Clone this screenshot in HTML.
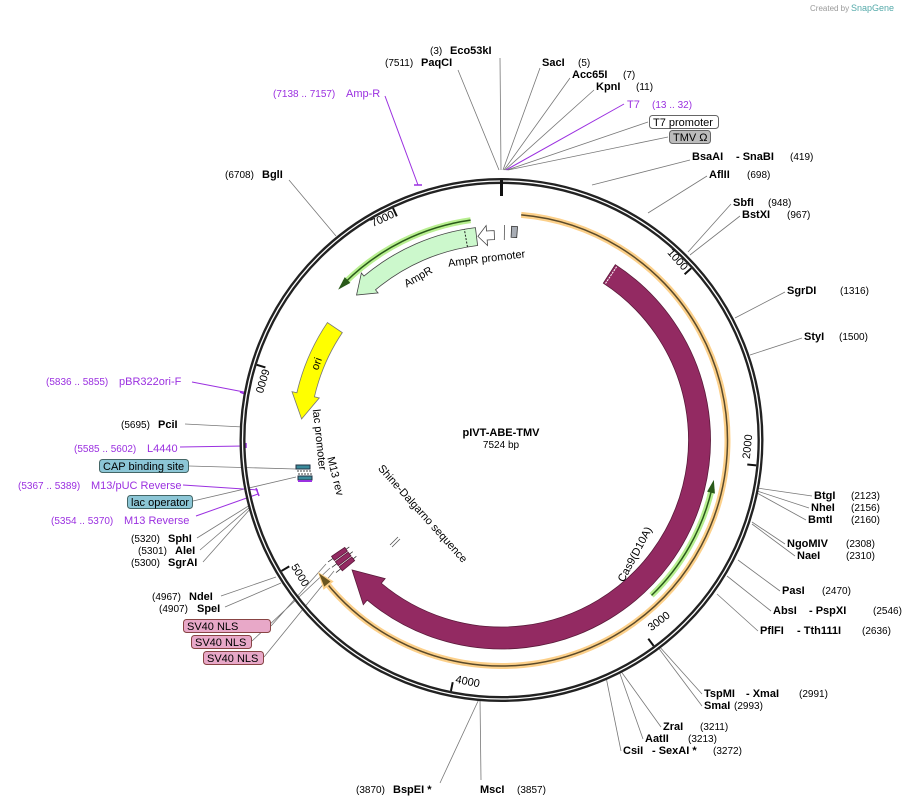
<!DOCTYPE html>
<html><head><meta charset="utf-8"><style>
html,body{margin:0;padding:0;background:#fff;}
svg{display:block;font-family:"Liberation Sans","DejaVu Sans",sans-serif;}
.n{font-weight:bold;font-size:11px;fill:#000}
.c{font-size:10px;fill:#000}
.p{font-size:11px;fill:#9b30e0}
.pc{font-size:10px;fill:#9b30e0}
.l{stroke:#777;stroke-width:0.8;fill:none}
.lp{stroke:#9b30e0;stroke-width:1;fill:none}
.f{font-size:11px;fill:#000}
</style></head><body>
<svg id="s" width="907" height="805" viewBox="0 0 907 805" xmlns="http://www.w3.org/2000/svg">
<text x="810" y="11" font-size="8" fill="#999">Created by</text><text x="851" y="11" font-size="9" fill="#5aa">SnapGene</text>
<g id="lines">
<path class="l" d="M500 58L501 170M458 70L499 170M540 68L503 170M570 78L504 170M594 90L505 170M648 122L507 170M668 137L508 170M690 160L592 185M707 176L648 213M731 204L688 252M740 216L690 255M785 292L735 318M802 338L750 355M812 496L757 488M809 508L757 491M806 520L757 493M785 544L752 522M795 556L752 524M780 591L738 560M771 611L727 576M758 631L717 594M702 694L658 645M702 706L657 646M661 727L620 670M643 739L619 671M621 751L606 677M481 780L480 699M440 783L479 699M289 180L336 236M185 424L243 427M189 466L296 469M193 501L296 477M197 538L250 505M200 550L250 507M203 562L251 508M221 596L276 577M225 607L281 583M271 626L326 564M252 641L330 568M264 657L334 571"/>
<path class="lp" d="M624 104L506 170M385 96L418 185M192 382L244 392M180 447L244 446M183 485L258 490M196 516L258 494"/>
<path d="M414 185l8 0M240 392l5 2M246 443l0 5M256 488l3 8" stroke="#9b30e0" stroke-width="1.5"/>
</g>
<g id="ring">
<circle cx="501.5" cy="440" r="259" fill="none" stroke="#222" stroke-width="6"/>
<circle cx="501.5" cy="440" r="259" fill="none" stroke="#fff" stroke-width="1.3"/>
<path d="M501.5 180V196" stroke="#111" stroke-width="3"/>
</g>
<g id="dyn"></g>
<text x="501" y="436" text-anchor="middle" font-weight="bold" font-size="11">pIVT-ABE-TMV</text>
<text x="501" y="448" text-anchor="middle" font-size="10">7524 bp</text>

<text x="430" y="54" class="c">(3)</text><text x="450" y="54" class="n">Eco53kI</text>
<text x="385" y="66" class="c">(7511)</text><text x="421" y="66" class="n">PaqCI</text>
<text x="542" y="66" class="n">SacI</text><text x="578" y="66" class="c">(5)</text>
<text x="572" y="78" class="n">Acc65I</text><text x="623" y="78" class="c">(7)</text>
<text x="596" y="90" class="n">KpnI</text><text x="636" y="90" class="c">(11)</text>
<text x="627" y="108" class="p">T7</text><text x="652" y="108" class="pc">(13 .. 32)</text>
<rect x="649.5" y="115.5" width="69" height="13" rx="3" fill="#fff" stroke="#666"/><text x="653" y="126" class="f">T7 promoter</text>
<rect x="669.5" y="130.5" width="41" height="13" rx="3" fill="#bbb" stroke="#666"/><text x="673" y="141" class="f">TMV Ω</text>
<text x="692" y="160" class="n">BsaAI</text><text x="736" y="160" class="n">- SnaBI</text><text x="790" y="160" class="c">(419)</text>
<text x="709" y="178" class="n">AflII</text><text x="747" y="178" class="c">(698)</text>
<text x="733" y="206" class="n">SbfI</text><text x="768" y="206" class="c">(948)</text>
<text x="742" y="218" class="n">BstXI</text><text x="787" y="218" class="c">(967)</text>
<text x="787" y="294" class="n">SgrDI</text><text x="840" y="294" class="c">(1316)</text>
<text x="804" y="340" class="n">StyI</text><text x="839" y="340" class="c">(1500)</text>
<text x="814" y="499" class="n">BtgI</text><text x="851" y="499" class="c">(2123)</text>
<text x="811" y="511" class="n">NheI</text><text x="851" y="511" class="c">(2156)</text>
<text x="808" y="523" class="n">BmtI</text><text x="851" y="523" class="c">(2160)</text>
<text x="787" y="547" class="n">NgoMIV</text><text x="846" y="547" class="c">(2308)</text>
<text x="797" y="559" class="n">NaeI</text><text x="846" y="559" class="c">(2310)</text>
<text x="782" y="594" class="n">PasI</text><text x="822" y="594" class="c">(2470)</text>
<text x="773" y="614" class="n">AbsI</text><text x="809" y="614" class="n">- PspXI</text><text x="873" y="614" class="c">(2546)</text>
<text x="760" y="634" class="n">PflFI</text><text x="797" y="634" class="n">- Tth111I</text><text x="862" y="634" class="c">(2636)</text>
<text x="704" y="697" class="n">TspMI</text><text x="746" y="697" class="n">- XmaI</text><text x="799" y="697" class="c">(2991)</text>
<text x="704" y="709" class="n">SmaI</text><text x="734" y="709" class="c">(2993)</text>
<text x="663" y="730" class="n">ZraI</text><text x="700" y="730" class="c">(3211)</text>
<text x="645" y="742" class="n">AatII</text><text x="688" y="742" class="c">(3213)</text>
<text x="623" y="754" class="n">CsiI</text><text x="652" y="754" class="n">- SexAI *</text><text x="713" y="754" class="c">(3272)</text>
<text x="480" y="793" class="n">MscI</text><text x="517" y="793" class="c">(3857)</text>
<text x="356" y="793" class="c">(3870)</text><text x="393" y="793" class="n">BspEI *</text>
<text x="225" y="178" class="c">(6708)</text><text x="262" y="178" class="n">BglI</text>
<text x="273" y="97" class="pc">(7138 .. 7157)</text><text x="346" y="97" class="p">Amp-R</text>
<text x="46" y="385" class="pc">(5836 .. 5855)</text><text x="119" y="385" class="p">pBR322ori-F</text>
<text x="121" y="428" class="c">(5695)</text><text x="158" y="428" class="n">PciI</text>
<text x="74" y="452" class="pc">(5585 .. 5602)</text><text x="147" y="452" class="p">L4440</text>
<rect x="99.5" y="459.5" width="89" height="13" rx="3" fill="#8cc6d6" stroke="#466"/><text x="103" y="470" class="f">CAP binding site</text>
<text x="18" y="489" class="pc">(5367 .. 5389)</text><text x="91" y="489" class="p">M13/pUC Reverse</text>
<rect x="127.5" y="495.5" width="65" height="13" rx="3" fill="#8cc6d6" stroke="#466"/><text x="131" y="506" class="f">lac operator</text>
<text x="51" y="524" class="pc">(5354 .. 5370)</text><text x="124" y="524" class="p">M13 Reverse</text>
<text x="131" y="542" class="c">(5320)</text><text x="168" y="542" class="n">SphI</text>
<text x="138" y="554" class="c">(5301)</text><text x="175" y="554" class="n">AleI</text>
<text x="131" y="566" class="c">(5300)</text><text x="168" y="566" class="n">SgrAI</text>
<text x="152" y="600" class="c">(4967)</text><text x="189" y="600" class="n">NdeI</text>
<text x="159" y="612" class="c">(4907)</text><text x="197" y="612" class="n">SpeI</text>
<rect x="183.5" y="619.5" width="87" height="13" rx="3" fill="#e8a8c8" stroke="#844"/><text x="187" y="630" class="f">SV40 NLS</text>
<rect x="191.5" y="635.5" width="60" height="13" rx="3" fill="#e8a8c8" stroke="#844"/><text x="195" y="646" class="f">SV40 NLS</text>
<rect x="203.5" y="651.5" width="60" height="13" rx="3" fill="#e8a8c8" stroke="#844"/><text x="207" y="662" class="f">SV40 NLS</text>

<text class="f" transform="translate(420,280) rotate(-30)" text-anchor="middle">AmpR</text>
<text class="f" transform="translate(487,262) rotate(-7)" text-anchor="middle">AmpR promoter</text>
<text class="f" transform="translate(320,365) rotate(-70)" text-anchor="middle">ori</text>
<text class="f" transform="translate(316,440) rotate(84)" text-anchor="middle">lac promoter</text>
<text class="f" transform="translate(332,477) rotate(76)" text-anchor="middle">M13 rev</text>
<text class="f" transform="translate(420,516) rotate(48)" text-anchor="middle">Shine-Dalgarno sequence</text>
<text class="f" transform="translate(638,556) rotate(-62)" text-anchor="middle">Cas9(D10A)</text>
<text class="f" transform="translate(675,262) rotate(48)" text-anchor="middle">1000</text>
<text class="f" transform="translate(751,447) rotate(-84)" text-anchor="middle">2000</text>
<text class="f" transform="translate(661,624) rotate(-37)" text-anchor="middle">3000</text>
<text class="f" transform="translate(467,685) rotate(11)" text-anchor="middle">4000</text>
<text class="f" transform="translate(297,577) rotate(59)" text-anchor="middle">5000</text>
<text class="f" transform="translate(259,380) rotate(107)" text-anchor="middle">6000</text>
<text class="f" transform="translate(384,222) rotate(-25)" text-anchor="middle">7000</text>
</svg>
<script>
var cx=501.5,cy=440,NS="http://www.w3.org/2000/svg",g=document.getElementById("dyn");
function P(r,a){a=a*Math.PI/180;return [cx+r*Math.sin(a),cy-r*Math.cos(a)];}
function arc(r,a1,a2){var p1=P(r,a1),p2=P(r,a2),cw=a2>a1?1:0,lg=Math.abs(a2-a1)>180?1:0;return "M"+p1+"A"+r+" "+r+" 0 "+lg+" "+cw+" "+p2;}
function add(t,at){var e=document.createElementNS(NS,t);for(var k in at)e.setAttribute(k,at[k]);g.appendChild(e);return e;}
function band(r,w,a1,a2,hw,hl,fill,st){var d=a2>a1?1:-1,ah=a2-d*hl;
var o=P(r+w/2,a1),d1="M"+o+" "+arc(r+w/2,a1,ah).replace(/^M[^A]*/,"")+" L"+P(r+hw/2,ah)+" L"+P(r,a2)+" L"+P(r-hw/2,ah)+" L"+P(r-w/2,ah)+" "+arc(r-w/2,ah,a1).replace(/^M[^A]*/,"")+"Z";
add("path",{d:d1,fill:fill,stroke:st,"stroke-width":0.8});}
for(var i=1;i<=7;i++){var a=i*1000/7524*360,p1=P(247,a),p2=P(256,a);add("path",{d:"M"+p1+"L"+p2,stroke:"#111","stroke-width":2});}
add("path",{d:arc(226,5,231),fill:"none",stroke:"#fcd08a","stroke-width":6});
add("path",{d:arc(226,5,231),fill:"none",stroke:"#5a4a2a","stroke-width":1.5});
band(226,1,230,234,12,4,"#fcd08a","#fcd08a");
band(226,1,230.5,233.5,7,3,"#6a5520","#6a5520");
add("path",{d:arc(222,-8,-45),fill:"none",stroke:"#b8ef90","stroke-width":6});
add("path",{d:arc(222,-8,-45),fill:"none",stroke:"#2a5a1a","stroke-width":1.5});
band(222,1,-44,-47,7,3,"#2a5a1a","#2a5a1a");
add("path",{d:arc(216,136,103),fill:"none",stroke:"#b8ef90","stroke-width":6});
add("path",{d:arc(216,136,103),fill:"none",stroke:"#2a5a1a","stroke-width":1.5});
band(216,1,104,101,7,3,"#2a5a1a","#2a5a1a");
band(198,22,33,229,34,9,"#932a62","#5a1a3a");
add("path",{d:"M"+P(188,33.6)+"L"+P(208,33.6),stroke:"#fff","stroke-width":1,"stroke-dasharray":"2 1"});
band(205,18,-7,-45,26,5,"#ccf8cc","#444");
add("path",{d:"M"+P(196,-10)+"L"+P(214,-10),stroke:"#222","stroke-width":1,"stroke-dasharray":"2 1.5"});
band(205,9,-2,-6.6,20,2.5,"#fff","#444");
add("path",{d:"M"+P(203,2.7)+"L"+P(214,2.7)+"L"+P(214,4.3)+"L"+P(203,4.3)+"Z",fill:"#a8adb5",stroke:"#333","stroke-width":0.8});
add("path",{d:"M"+P(200,0.8)+"L"+P(215,0.8),stroke:"#555","stroke-width":0.8});
band(201,18,-56,-84,28,7,"#ffff00","#777");
add("rect",{x:296,y:465,width:14,height:4,fill:"#3a8a9a",stroke:"#234"});
add("rect",{x:298,y:476,width:14,height:4,fill:"#3a8a9a",stroke:"#234"});
add("rect",{x:298,y:480,width:14,height:2,fill:"#9b30e0"});
add("path",{d:"M297 471h14M298 474h14",stroke:"#444","stroke-width":1,"stroke-dasharray":"2 1"});
add("path",{d:"M390 545l8 -8M392 547l8 -8",stroke:"#555","stroke-width":0.8});
[231.3,233.1,234.9].forEach(function(a){
 add("path",{d:"M"+P(186,a)+"L"+P(212,a),stroke:"#333","stroke-width":0.8});
 band(198,16,a-0.7,a+0.7,16,0.01,"#932a62","#5a1a3a");
});
</script>
</body></html>
